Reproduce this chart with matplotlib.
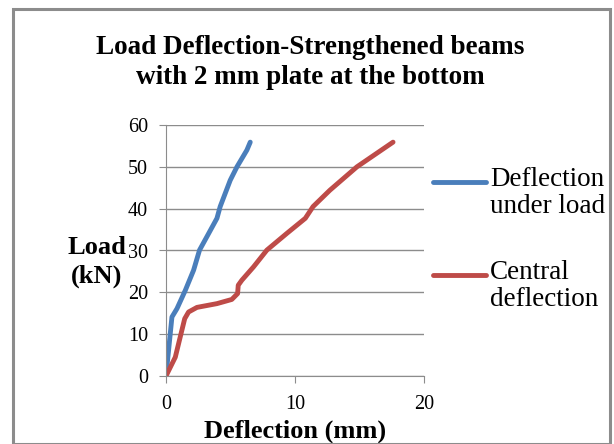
import matplotlib
matplotlib.use("Agg")
from matplotlib import pyplot as plt
from matplotlib.patches import Rectangle
from matplotlib.lines import Line2D

# Load-deflection readings
under_load_defl = [0, 0.46, 0.85, 1.5, 2.14, 2.6, 3.17, 3.95, 4.2, 4.98, 5.5, 6.27, 6.53]
under_load_load = [0, 14.1, 16.1, 20.5, 25.3, 30.1, 33.3, 37.7, 40.5, 46.8, 50, 54, 55.9]

central_defl = [0, 0.72, 1.45, 1.75, 2.4, 3.95, 5.1, 5.55, 5.6, 5.88, 6.79, 7.82, 9.37,
                10.8, 11.4, 12.7, 14.8, 17.6]
central_load = [0, 4.5, 13.7, 15.3, 16.4, 17.3, 18.3, 19.7, 21.7, 22.9, 26.1, 30.1, 34.1,
                37.7, 40.5, 44.4, 50, 55.9]

series_names = ["Deflection\nunder load", "Central\ndeflection"]
series_colors = ["#4a7ebb", "#be4b48"]

plt.rcParams["font.family"] = ["Liberation Serif", "DejaVu Serif"]

fig = plt.figure(figsize=(6.14, 4.44), dpi=100)
fig.patches.append(Rectangle((12.5 / 614, 0), 597.5 / 614, 1 - 9.5 / 444,
                             transform=fig.transFigure, fill=False,
                             edgecolor="#8c8c8c", linewidth=2.2))

ax = fig.add_axes([166 / 614, 68 / 444, 258 / 614, 251 / 444])
ax.plot(under_load_defl, under_load_load, color=series_colors[0], lw=3.5,
        solid_capstyle="round", solid_joinstyle="round")
ax.plot(central_defl, central_load, color=series_colors[1], lw=3.5,
        solid_capstyle="round", solid_joinstyle="round")

ax.set_xlim(0, 20)
ax.set_ylim(0, 60)
ax.set_xticks([0, 10, 20])
ax.set_yticks(range(0, 61, 10))
ax.grid(axis="y", color="#8c8c8c", lw=1)
ax.set_axisbelow(True)
for s in ["top", "right"]:
    ax.spines[s].set_visible(False)
for s in ["left", "bottom"]:
    ax.spines[s].set_color("#8c8c8c")
ax.tick_params(colors="#8c8c8c", labelcolor="black", labelsize=14.5, length=5)
ax.tick_params(axis="y", pad=8)
ax.tick_params(axis="x", pad=9)

ax.set_xlabel("Deflection (mm)", fontsize=19, fontweight="bold", va="center")
ax.xaxis.set_label_coords(0.5, -(431 - 376) / 251)

ax.set_ylabel("Load\n(kN)", fontsize=19, fontweight="bold", rotation=0,
              va="center", ha="center", linespacing=1.3)
ax.yaxis.set_label_coords(-(166 - 97) / 258, (376 - 262) / 251)

fig.text(0.506, 1 - 48 / 444, "Load Deflection-Strengthened beams", ha="center",
         va="center", fontsize=19.5, fontweight="bold")
fig.text(0.506, 1 - 77 / 444, "with 2 mm plate at the bottom", ha="center",
         va="center", fontsize=19.5, fontweight="bold")

# legend drawn by hand so the key sits on the first text line
for name, color, y0 in zip(series_names, series_colors, [182, 275]):
    fig.add_artist(Line2D([433 / 614, 486 / 614], [1 - y0 / 444] * 2,
                          transform=fig.transFigure, color=color, lw=3.5,
                          solid_capstyle="round"))
    fig.text(490 / 614, 1 - (y0 - 15) / 444, name, ha="left", va="top",
             fontsize=19.5, linespacing=1.1)

fig.savefig("out.png", dpi=100)
